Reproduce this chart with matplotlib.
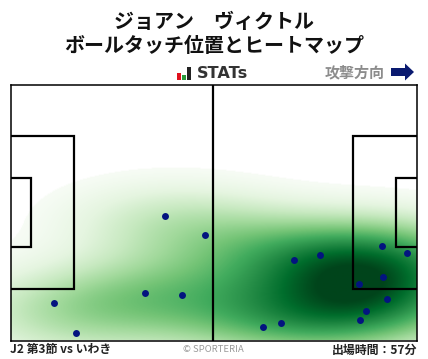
import numpy as np
import matplotlib
matplotlib.use("Agg")
import matplotlib.pyplot as plt
from matplotlib.patches import Rectangle, FancyArrow

plt.rcParams['font.family'] = ['Noto Sans CJK JP', 'DejaVu Sans']

title_lines = ["ジョアン　ヴィクトル", "ボールタッチ位置とヒートマップ"]
match_label = "J2 第3節 vs いわき"
time_label = "出場時間：57分"
credit = "© SPORTERIA"
direction = "攻撃方向"
logo = "STATs"

touch_x = [53.5, 76, 145, 181.5, 164.5, 204.5, 263.3, 281.3, 294.3, 320.3,
           359.3, 382.3, 407.3, 383.3, 387.3, 366.3, 360.3]
touch_y = [303, 333, 293, 295, 216, 235, 327.3, 323.3, 260.3, 255.3,
           284.3, 246.3, 253.3, 277.3, 299.3, 311.3, 320.3]

W, H = 428, 359
fig = plt.figure(figsize=(W/100, H/100), dpi=100)
L, R, T, B = 10.5, 416.5, 84.5, 340.5
ax = fig.add_axes([L/W, 1-B/H, (R-L)/W, (B-T)/H])
ax.set_xticks([]); ax.set_yticks([])
for s in ax.spines.values():
    s.set_linewidth(1.1); s.set_color('black'); s.set_zorder(4)

# kernel density of the touches
gx, gy = np.meshgrid(np.linspace(L, R, 407), np.linspace(T, B, 257))
z = np.zeros_like(gx)
for x, y in zip(touch_x, touch_y):
    z += np.exp(-((gx-x)**2/(2*80.0**2) + (gy-y)**2/(2*29.0**2)))
z = z / z.max()
cmap = plt.get_cmap('Greens').copy()
cmap.set_under('white')
ax.imshow(z, extent=(L, R, B, T), cmap=cmap, vmin=0.05, vmax=0.95,
          aspect='auto', interpolation='bilinear', zorder=1)
ax.set_xlim(L, R); ax.set_ylim(B, T)

lc = dict(color='black', lw=1.6, zorder=2, solid_joinstyle='miter', solid_capstyle='butt')
ax.plot([213, 213], [T, B], **lc)
ax.plot([L, 74, 74, L], [136, 136, 289, 289], **lc)
ax.plot([L, 31, 31, L], [178, 178, 247, 247], **lc)
ax.plot([R, 353, 353, R], [136, 136, 289, 289], **lc)
ax.plot([R, 396, 396, R], [178, 178, 247, 247], **lc)

ax.scatter(touch_x, touch_y, s=25, color='#03147f', linewidths=0, zorder=3)

fig.text(214/W, 1-21/H, title_lines[0], ha='center', va='center', fontsize=14.4, fontweight='bold', color='#111111')
fig.text(214/W, 1-46/H, title_lines[1], ha='center', va='center', fontsize=14.4, fontweight='bold', color='#111111')

# logo
for x0, h, c in [(177, 7, '#e0101c'), (182, 5, '#2a9a3a'), (187, 13, '#222222')]:
    fig.add_artist(Rectangle((x0/W, 1-80/H), 4.3/W, h/H, transform=fig.transFigure, color=c, lw=0))
fig.text(196.5/W, 1-73.5/H, logo, ha='left', va='center', fontsize=11.6, fontweight='bold',
         color='#333333', family=['DejaVu Sans'])

fig.text(355/W, 1-72/H, direction, ha='center', va='center', fontsize=10.8, fontweight='bold', color='#8c8c8c')
fig.add_artist(FancyArrow(391/W, 1-72/H, 23/W, 0, width=8/H, length_includes_head=True,
                          head_width=17/H, head_length=9/W, color='#0a1a70', lw=0,
                          transform=fig.transFigure))

fig.text(10/W, 1-350/H, match_label, ha='left', va='center', fontsize=8.6, fontweight='bold', color='#222222')
fig.text(417/W, 1-350/H, time_label, ha='right', va='center', fontsize=8.6, fontweight='bold', color='#222222')
fig.text(213/W, 1-349/H, credit, ha='center', va='center', fontsize=6.8, color='#999999')

fig.savefig('out.png', dpi=100)
